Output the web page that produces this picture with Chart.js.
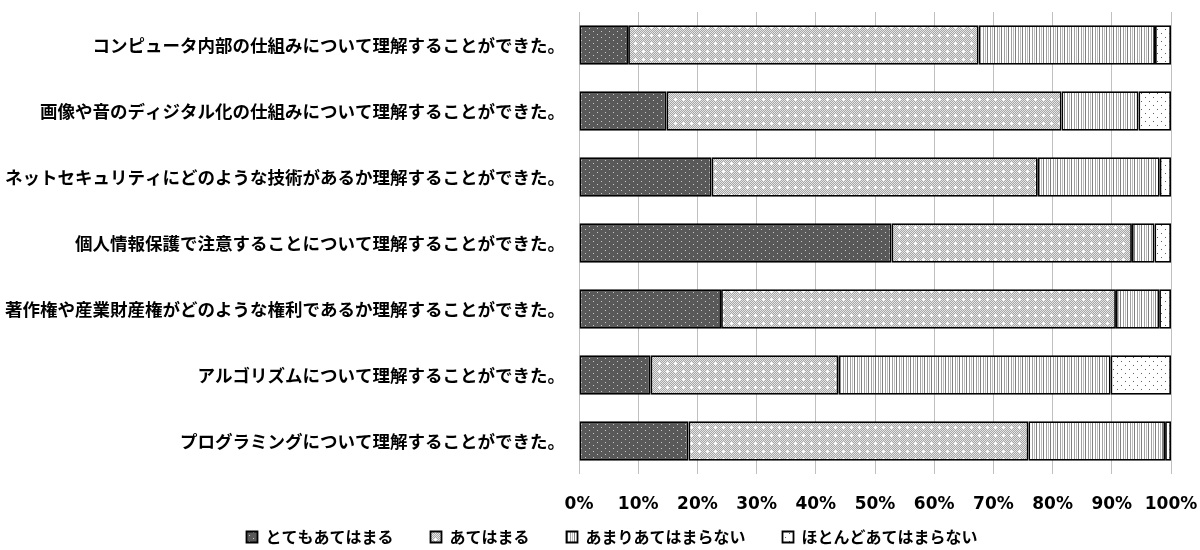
<!DOCTYPE html>
<html><head><meta charset="utf-8">
<script src="https://cdn.jsdelivr.net/npm/chart.js@4.4.1/dist/chart.umd.min.js"></script>
<style>html,body{margin:0;padding:0;background:#fff}#wrap{width:1200px;height:550px}</style>
</head><body><div id="wrap"><canvas id="c" width="1200" height="550"></canvas></div>
<script>
const categories = [
  "コンピュータ内部の仕組みについて理解することができた。",
  "画像や音のディジタル化の仕組みについて理解することができた。",
  "ネットセキュリティにどのような技術があるか理解することができた。",
  "個人情報保護で注意することについて理解することができた。",
  "著作権や産業財産権がどのような権利であるか理解することができた。",
  "アルゴリズムについて理解することができた。",
  "プログラミングについて理解することができた。"
];
const seriesNames = ["とてもあてはまる","あてはまる","あまりあてはまらない","ほとんどあてはまらない"];
const veryTrue   = [8.3, 14.8, 22.4, 52.8, 24.0, 12.1, 18.5];
const somewhatTrue = [59.2, 66.7, 55.1, 40.6, 66.7, 31.7, 57.4];
const notVery    = [29.8, 13.0, 20.6, 3.8, 7.3, 46.0, 23.1];
const notAtAll   = [2.7, 5.5, 1.9, 2.8, 2.0, 10.2, 1.0];
const tickValues = [0,10,20,30,40,50,60,70,80,90,100];

function makePattern(w,h,draw){
  const cv=document.createElement('canvas');cv.width=w;cv.height=h;
  const g=cv.getContext('2d');draw(g);
  return document.getElementById('c').getContext('2d').createPattern(cv,'repeat');
}
const pDark = makePattern(8,6,g=>{g.fillStyle='#595959';g.fillRect(0,0,8,6);g.fillStyle='#c8c8c8';g.fillRect(1,1,1,1);g.fillRect(5,4,1,1);});
const pLight = makePattern(8,8,g=>{
  for(let y=0;y<8;y++)for(let x=0;x<8;x++){g.fillStyle=((x+y)%2)?'#a6a6a6':'#e6e6e6';g.fillRect(x,y,1,1);}
  g.fillStyle='#ffffff';g.fillRect(3,2,1,3);g.fillRect(2,3,3,1);
});
const pStripe = makePattern(7,1,g=>{g.fillStyle='#fff';g.fillRect(0,0,7,1);g.fillStyle='#7f7f7f';g.fillRect(0,0,1,1);g.fillStyle='#a0a0a0';g.fillRect(3,0,1,1);g.fillStyle='#bdbdbd';g.fillRect(5,0,1,1);});
const pDots = makePattern(8,8,g=>{g.fillStyle='#fff';g.fillRect(0,0,8,8);g.fillStyle='#606060';g.fillRect(1,1,1,1);g.fillRect(5,5,1,1);});

const fills=[pDark,pLight,pStripe,pDots];
const vals=[veryTrue,somewhatTrue,notVery,notAtAll];
const datasets=seriesNames.map((n,i)=>({label:n,data:vals[i],backgroundColor:fills[i],borderColor:'#000',borderWidth:1.8,borderSkipped:false,barPercentage:0.6,categoryPercentage:1}));

new Chart(document.getElementById('c'),{
  type:'bar',
  data:{labels:categories,datasets},
  options:{
    indexAxis:'y',responsive:false,animation:false,devicePixelRatio:1,
    layout:{padding:{top:12,right:29,bottom:-5,left:53}},
    plugins:{
      legend:{position:'bottom',labels:{boxWidth:11,boxHeight:11,padding:37,color:'#000',font:{family:'"Noto Sans CJK JP"',size:16,weight:'bold'}}},
      tooltip:{enabled:false}
    },
    scales:{
      x:{stacked:true,min:0,max:100,
        afterBuildTicks:s=>{s.ticks=tickValues.map(v=>({value:v}));},
        afterFit:s=>{s.paddingLeft=0;s.paddingRight=0;s.height=18;s._computeLabelArea=()=>null;},
        grid:{color:'#c0c0c0',lineWidth:1,drawTicks:false},border:{display:false},
        ticks:{padding:20,color:'#000',font:{family:'"DejaVu Sans"',size:17,weight:'bold'},callback:v=>v+'%'}},
      y:{stacked:true,
        afterFit:s=>{s.width=526;s.paddingTop=0;s.paddingBottom=0;s._computeLabelArea=()=>null;},
        grid:{display:false,drawTicks:false},border:{display:false},
        ticks:{padding:14,color:'#000',font:{family:'"Noto Sans CJK JP"',size:17.5,weight:'bold'}}}
    }
  }
});
</script></body></html>
